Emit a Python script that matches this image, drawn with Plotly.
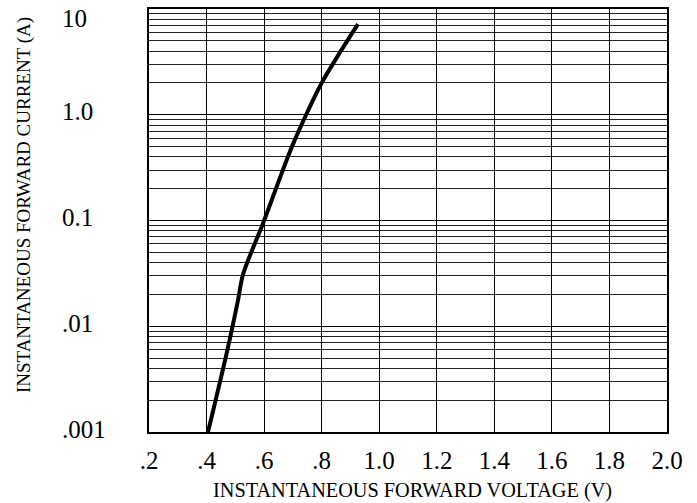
import math
import plotly.graph_objects as go

# Data
voltage = [0.405, 0.472, 0.509, 0.527, 0.586, 0.600, 0.690, 0.735, 0.800, 0.926]
current = [0.001, 0.0059, 0.0175, 0.031, 0.080, 0.100, 0.45, 0.86, 2.0, 7.2]

x_ticks = [0.2, 0.4, 0.6, 0.8, 1.0, 1.2, 1.4, 1.6, 1.8, 2.0]
x_tick_labels = [".2", ".4", ".6", ".8", "1.0", "1.2", "1.4", "1.6", "1.8", "2.0"]
y_ticks = [10, 1, 0.1, 0.01, 0.001]
y_tick_labels = ["10", "1.0", "0.1", ".01", ".001"]

FONT = "Times New Roman, Tinos, Liberation Serif, serif"

fig = go.Figure()
fig.add_trace(go.Scatter(x=voltage, y=current, mode="lines",
                         line=dict(color="black", width=4, shape="spline", smoothing=0.9),
                         hoverinfo="skip", showlegend=False))

W, H = 697, 503
L, R, T, B = 149, 30, 7, 71
pw = W - L - R
ph = H - T - B

fig.update_layout(
    width=W, height=H,
    margin=dict(l=L, r=R, t=T, b=B),
    paper_bgcolor="white", plot_bgcolor="white",
    font=dict(family=FONT, color="black"),
    xaxis=dict(range=[0.2, 2.0], tickvals=x_ticks, ticktext=x_tick_labels,
               showgrid=True, gridcolor="black", gridwidth=1,
               showline=True, linecolor="black", linewidth=1.5, mirror=True,
               ticks="", ticklabelstandoff=5,
               tickfont=dict(size=25, family=FONT, color="black"),
               zeroline=False, fixedrange=True),
    yaxis=dict(type="log", range=[-3, 1], dtick=1,
               showticklabels=False,
               showgrid=True, gridcolor="black", gridwidth=1,
               minor=dict(showgrid=True, gridcolor="#222222", gridwidth=1, ticks=""),
               showline=True, linecolor="black", linewidth=1.5, mirror=True,
               ticks="", zeroline=False, fixedrange=True),
)

lab_x = (60 - L) / pw
for v, t in zip(y_ticks, y_tick_labels):
    if v == 10:
        fig.add_annotation(x=lab_x, xref="paper", y=math.log10(v), yref="y",
                           text=t, showarrow=False, xanchor="left", yanchor="top",
                           yshift=6, font=dict(size=25, family=FONT, color="black"))
    else:
        fig.add_annotation(x=lab_x, xref="paper", y=math.log10(v), yref="y",
                           text=t, showarrow=False, xanchor="left", yanchor="middle",
                           yshift=3, font=dict(size=25, family=FONT, color="black"))

fig.add_annotation(x=(24 - L) / pw, xref="paper", y=(H - B - 204) / ph, yref="paper",
                   text="INSTANTANEOUS FORWARD CURRENT (A)", textangle=-90,
                   showarrow=False, xanchor="center", yanchor="middle",
                   font=dict(size=19, family=FONT, color="black"))
fig.add_annotation(x=(412 - L) / pw, xref="paper", y=(H - B - 491) / ph, yref="paper",
                   text="INSTANTANEOUS FORWARD VOLTAGE (V)",
                   showarrow=False, xanchor="center", yanchor="middle",
                   font=dict(size=20.3, family=FONT, color="black"))

fig.write_html("out.html", config={"displayModeBar": False},
               post_script="document.body.style.margin='0';document.body.style.overflow='hidden';")
